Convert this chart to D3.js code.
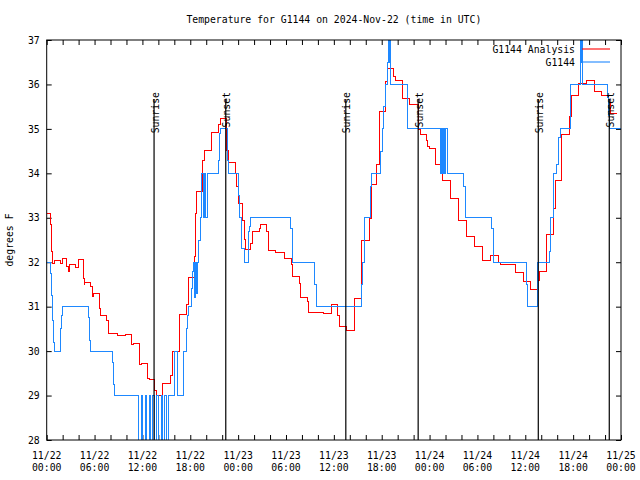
<!DOCTYPE html>
<html>
<head>
<meta charset="utf-8">
<script src="https://cdn.jsdelivr.net/npm/d3@7"></script>
<style>
  html, body { margin: 0; padding: 0; background: #ffffff; }
  svg { display: block; }
  text { font-family: "DejaVu Sans Mono", "Liberation Mono", monospace; font-size: 9.8px; fill: #000; }
</style>
</head>
<body>
<svg id="chart" width="640" height="480"></svg>
<script>
// ---------------- DATA (hours since 2024-11-22 00:00 UTC) ----------------
const titleText = "Temperature for G1144 on 2024-Nov-22 (time in UTC)";
const yAxisLabel = "degrees F";
const seriesNames = ["G1144 Analysis", "G1144"];

const analysisHours = [0, 0.45, 0.63, 0.70, 0.92, 1.67, 1.92, 2.51, 2.71, 2.92, 3.67, 3.96, 4.59, 4.71, 4.80,
  5.55, 5.72, 5.84, 6.60, 6.72, 7.52, 7.69, 8.85, 9.94, 10.66, 10.86, 11.61, 11.91, 12.61, 12.86,
  13.54, 13.71, 14.55, 15.55, 15.75, 16.71, 17.55, 17.76, 18.47, 18.60, 18.81, 19.56, 19.76, 20.69,
  21.60, 21.73, 22.57, 22.77, 23.61, 23.82, 24.03, 24.58, 24.74, 24.87, 25.58, 25.74, 26.66, 26.83,
  27.59, 27.79, 28.71, 29.76, 30.63, 30.85, 31.64, 31.76, 32.68, 32.80, 34.68, 35.65, 36.44, 36.65,
  37.62, 38.57, 39.50, 40.45, 40.75, 41.38, 41.71, 42.46, 42.67, 43.51, 43.71, 44.55, 45.43, 46.60,
  46.81, 47.56, 47.72, 47.98, 48.78, 49.65, 50.66, 51.61, 52.66, 53.62, 54.62, 55.62, 56.59, 56.84,
  58.72, 59.76, 60.69, 61.57, 61.77, 62.70, 63.52, 63.74, 64.58, 65.58, 65.74, 66.62, 67.71, 68.62,
  69.59, 70.41, 70.71, 71.54];
const analysisTemps = [33.10, 32.84, 32.24, 31.97, 32.05, 31.98, 32.09, 31.90, 31.79, 31.94, 31.88, 32.07, 31.64, 31.50, 31.55,
  31.45, 31.22, 31.30, 30.96, 30.81, 30.68, 30.40, 30.36, 30.38, 30.16, 30.18, 29.69, 29.72, 29.39, 29.37,
  29.12, 29.00, 29.27, 29.46, 30.00, 30.83, 31.04, 31.66, 32.14, 33.10, 33.60, 34.28, 34.52, 34.92,
  35.09, 35.24, 34.52, 34.25, 34.00, 33.70, 33.33, 32.95, 32.52, 32.29, 32.42, 32.69, 32.76, 32.84,
  32.69, 32.27, 32.21, 32.09, 31.94, 31.69, 31.52, 31.21, 31.11, 30.87, 30.85, 31.04, 30.80, 30.56,
  30.47, 31.19, 32.50, 32.99, 33.74, 34.19, 35.39, 36.06, 36.36, 36.17, 36.08, 35.69, 35.56, 34.98,
  34.88, 34.75, 34.60, 34.57, 34.19, 33.85, 33.44, 32.95, 32.57, 32.36, 32.05, 32.16, 32.00, 31.94,
  31.77, 31.56, 31.39, 31.60, 31.80, 32.63, 33.20, 33.83, 34.88, 35.27, 35.76, 36.02, 36.10, 35.85,
  35.76, 35.60, 35.35, 35.35];

const observedHours = [0, 0.45, 0.58, 0.70, 0.83, 0.95, 1.71, 1.83, 1.96, 5.22, 5.39, 5.52, 8.23, 8.35, 8.48,
  11.49, 11.57, 11.89, 12.01, 12.39, 12.51, 12.89, 13.02, 13.30, 13.55, 13.81, 13.96, 14.39, 14.58,
  14.83, 15.02, 15.25, 16.05, 16.38, 17.09, 17.53, 17.66, 17.81, 18.13, 18.22, 18.35, 18.51, 18.63,
  18.76, 18.88, 19.01, 19.22, 19.44, 19.60, 19.79, 19.94, 20.10, 21.52, 21.61, 21.73, 22.65, 22.77,
  24.03, 24.11, 24.45, 24.74, 25.28, 25.40, 25.58, 30.51, 30.80, 33.52, 33.86, 39.50, 39.62, 39.79,
  40.58, 40.75, 41.88, 42.04, 42.26, 42.46, 42.67, 42.80, 42.92, 43.01, 43.09, 45.24, 49.32, 49.50,
  49.63, 49.78, 49.91, 50.03, 50.23, 52.24, 52.54, 55.80, 56.00, 60.10, 60.26, 61.57, 63.02, 63.11,
  63.52, 63.92, 64.11, 64.45, 65.70, 66.96, 67.08, 67.15, 67.21, 70.30, 70.42, 70.54, 72];
const observedTemps = [32, 31.75, 31.25, 30.7, 30.2, 30, 30.5, 30.8, 31, 30.75, 30.25, 30, 29.75, 29.25, 29,
  28.8, 28, 29, 28, 29, 28, 29, 28, 29, 28, 29, 28, 29, 28,
  29, 28, 29, 30, 29, 30, 30.5, 30.8, 31, 31.4, 31.8, 32, 31.2, 32,
  31.3, 32, 32.5, 33, 34, 33, 34, 33, 34, 34.3, 34.9, 35, 34.3, 34,
  33.5, 33, 32.3, 32, 32.7, 32.8, 33, 32.75, 32, 31.5, 31, 31.5, 32, 33,
  33.7, 34, 34.5, 35, 35.5, 36, 36.5, 37.5, 36.5, 37.5, 36, 35, 34, 35,
  34, 35, 34, 35, 34, 33.7, 33, 32.75, 32, 31.5, 31, 32, 32.25, 33,
  34, 34.2, 34.8, 35, 36, 37.5, 36.5, 37.5, 36, 35.7, 35.3, 35, 35];

const sunriseHours = [13.46, 37.50, 61.63];
const sunsetHours = [22.45, 46.57, 70.53];
const sunriseLabel = "Sunrise";
const sunsetLabel = "Sunset";

const xLabelHours = [0, 6, 12, 18, 24, 30, 36, 42, 48, 54, 60, 66, 72];
const xLabelDates = ["11/22", "11/22", "11/22", "11/22", "11/23", "11/23", "11/23", "11/23", "11/24", "11/24", "11/24", "11/24", "11/25"];
const xLabelTimes = ["00:00", "06:00", "12:00", "18:00", "00:00", "06:00", "12:00", "18:00", "00:00", "06:00", "12:00", "18:00", "00:00"];
const xMinorStep = 2;
const yTicks = [28, 29, 30, 31, 32, 33, 34, 35, 36, 37];

// ---------------- CHART ----------------
const svg = d3.select("#chart");
const pLeft = 46.7, pRight = 621, pTop = 40, pBottom = 440;
const x = d3.scaleLinear().domain([0, 72]).range([pLeft, pRight]);
const y = d3.scaleLinear().domain([28, 37]).range([pBottom, pTop]);
const redColor = "#ff0000", blueColor = "#1e88ff";

svg.append("rect").attr("width", 640).attr("height", 480).attr("fill", "#fff");

svg.append("defs").append("clipPath").attr("id", "plotclip")
  .append("rect").attr("x", pLeft).attr("y", pTop).attr("width", pRight - pLeft).attr("height", pBottom - pTop);

// title
svg.append("text").attr("x", (pLeft + pRight) / 2).attr("y", 23).attr("text-anchor", "middle").text(titleText);

// y label
svg.append("text").attr("transform", "translate(13,240) rotate(-90)").attr("text-anchor", "middle").text(yAxisLabel);

// axes
const minorHours = d3.range(0, 72 + 0.001, xMinorStep);
const yLeftAxis = svg.append("g").attr("transform", `translate(${pLeft},0)`)
  .call(d3.axisLeft(y).tickValues(yTicks).tickSizeInner(-5).tickSizeOuter(0).tickPadding(7).tickFormat(d3.format("d")));
const yRightAxis = svg.append("g").attr("transform", `translate(${pRight},0)`)
  .call(d3.axisRight(y).tickValues(yTicks).tickSizeInner(-5).tickSizeOuter(0).tickFormat(""));
const xBottomAxis = svg.append("g").attr("transform", `translate(0,${pBottom})`)
  .call(d3.axisBottom(x).tickValues(minorHours).tickSizeInner(-5).tickSizeOuter(0).tickFormat(""));
const xTopAxis = svg.append("g").attr("transform", `translate(0,${pTop})`)
  .call(d3.axisTop(x).tickValues(minorHours).tickSizeInner(-5).tickSizeOuter(0).tickFormat(""));
[yLeftAxis, yRightAxis, xBottomAxis, xTopAxis].forEach(g => {
  g.select(".domain").remove();
  g.selectAll("line").attr("stroke", "#000").attr("stroke-width", 1);
  g.selectAll("text").attr("font-family", null).attr("font-size", null).attr("fill", "#000");
});

// x labels (two lines)
const xl = svg.append("g");
xLabelHours.forEach((h, i) => {
  const t = xl.append("text").attr("x", x(h)).attr("text-anchor", "middle");
  t.append("tspan").attr("x", x(h)).attr("y", 458.5).text(xLabelDates[i]);
  t.append("tspan").attr("x", x(h)).attr("y", 471).text(xLabelTimes[i]);
});

// data lines
const line = d3.line().x(d => x(d[0])).y(d => y(d[1])).curve(d3.curveStepAfter);
const plot = svg.append("g").attr("clip-path", "url(#plotclip)");
plot.append("path").datum(analysisHours.map((h, i) => [h, analysisTemps[i]]))
  .attr("d", line).attr("fill", "none").attr("stroke", redColor).attr("stroke-width", 1)
  .attr("shape-rendering", "crispEdges");
plot.append("path").datum(observedHours.map((h, i) => [h, observedTemps[i]]))
  .attr("d", line).attr("fill", "none").attr("stroke", blueColor).attr("stroke-width", 1)
  .attr("shape-rendering", "crispEdges");

// sunrise / sunset
const sun = sunriseHours.map(h => [h, sunriseLabel]).concat(sunsetHours.map(h => [h, sunsetLabel]));
sun.forEach(([h, lab]) => {
  svg.append("line").attr("x1", x(h)).attr("x2", x(h)).attr("y1", 99).attr("y2", pBottom)
    .attr("stroke", "#000").attr("stroke-width", 1.2);
  svg.append("text").attr("transform", `translate(${x(h) + 4.5},92) rotate(-90)`)
    .attr("text-anchor", "end").text(lab);
});

// border
svg.append("rect").attr("x", pLeft).attr("y", pTop).attr("width", pRight - pLeft).attr("height", pBottom - pTop)
  .attr("fill", "none").attr("stroke", "#000").attr("stroke-width", 1);

// legend
const legend = svg.append("g");
[[seriesNames[0], redColor, 49], [seriesNames[1], blueColor, 62]].forEach(([name, col, ly]) => {
  legend.append("text").attr("x", 575).attr("y", ly + 3.5).attr("text-anchor", "end").text(name);
  legend.append("line").attr("x1", 582).attr("x2", 610).attr("y1", ly).attr("y2", ly)
    .attr("stroke", col).attr("stroke-width", 1.1);
});
</script>
</body>
</html>
